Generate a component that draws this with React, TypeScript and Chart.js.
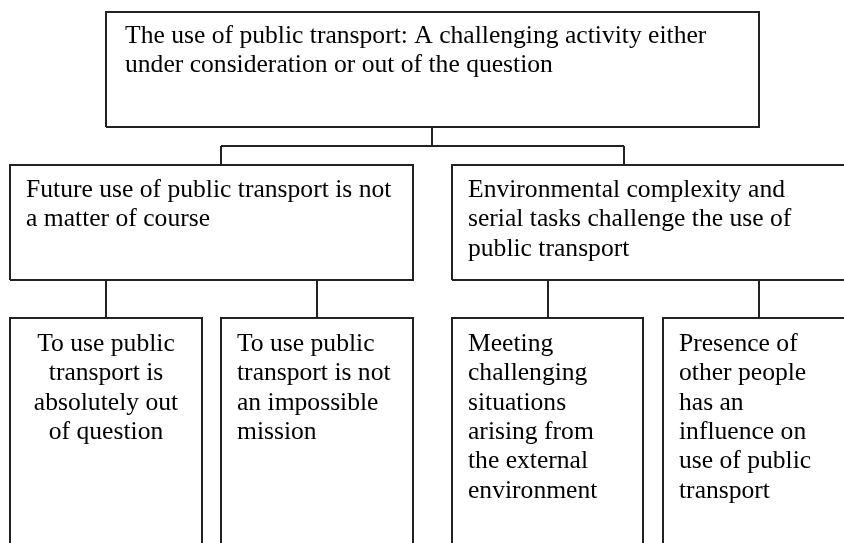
import React, { useEffect, useRef } from "react";
import { Chart, registerables } from "chart.js";

Chart.register(...registerables);

// Box geometry in diagram units (x: 0..844, y: 0..543 top-down)
const boxLeft = [106, 10, 452, 10, 221, 452, 663];
const boxRight = [759, 413, 880, 202, 413, 643, 880];
const boxTop = [12, 165, 165, 318, 318, 318, 318];
const boxBottom = [127, 280, 280, 580, 580, 580, 580];

const boxTexts: string[][] = [
  ["The use of public transport: A challenging activity either", "under consideration or out of the question"],
  ["Future use of public transport is not", "a matter of course"],
  ["Environmental complexity and", "serial tasks challenge the use of", "public transport"],
  ["To use public", "transport is", "absolutely out", "of question"],
  ["To use public", "transport is not", "an impossible", "mission"],
  ["Meeting", "challenging", "situations", "arising from", "the external", "environment"],
  ["Presence of", "other people", "has an", "influence on", "use of public", "transport"],
];
const textAlign: ("left" | "center")[] = ["left", "left", "left", "center", "left", "left", "left"];
const textX = [125, 26, 468, 106, 237, 468, 679];
const textBaseline = [43, 197, 197, 351, 351, 351, 351];
const lineStep = 29.3;

// Connector segments: [x1, y1, x2, y2]
const connectors: number[][] = [
  [432, 127, 432, 146],
  [221, 146, 624, 146],
  [221, 146, 221, 165],
  [624, 146, 624, 165],
  [106, 280, 106, 318],
  [317, 280, 317, 318],
  [548, 280, 548, 318],
  [759, 280, 759, 318],
];

const LINE_COLOR = "#222222";
const LINE_WIDTH = 2;

export default function App() {
  const ref = useRef<HTMLCanvasElement | null>(null);

  useEffect(() => {
    if (!ref.current) return;
    const datasets: any[] = [];
    boxLeft.forEach((l, i) => {
      const r = boxRight[i];
      const t = boxTop[i];
      const b = boxBottom[i];
      datasets.push({
        label: "box" + i,
        data: [
          { x: l, y: b },
          { x: l, y: t },
          { x: r, y: t },
          { x: r, y: b },
          { x: l, y: b },
        ],
        showLine: true,
        borderColor: LINE_COLOR,
        borderWidth: LINE_WIDTH,
        pointRadius: 0,
        fill: false,
        tension: 0,
        borderJoinStyle: "miter",
      });
    });
    connectors.forEach((c, i) => {
      datasets.push({
        label: "conn" + i,
        data: [
          { x: c[0], y: c[1] },
          { x: c[2], y: c[3] },
        ],
        showLine: true,
        borderColor: LINE_COLOR,
        borderWidth: LINE_WIDTH,
        pointRadius: 0,
        fill: false,
      });
    });

    const textPlugin = {
      id: "boxText",
      afterDatasetsDraw(chart: any) {
        const { ctx, scales } = chart;
        const xs = scales.x;
        const ys = scales.y;
        ctx.save();
        ctx.fillStyle = "#000";
        ctx.font = '25.6px "Liberation Serif", "Times New Roman", serif';
        ctx.textBaseline = "alphabetic";
        boxTexts.forEach((lines, i) => {
          ctx.textAlign = textAlign[i];
          lines.forEach((ln, k) => {
            const px = xs.getPixelForValue(textX[i]);
            const py = ys.getPixelForValue(textBaseline[i] + k * lineStep);
            ctx.fillText(ln, px, py);
          });
        });
        ctx.restore();
      },
    };

    const chart = new Chart(ref.current, {
      type: "scatter",
      data: { datasets },
      options: {
        animation: false,
        responsive: false,
        layout: { padding: 0 },
        plugins: {
          legend: { display: false },
          tooltip: { enabled: false },
        },
        scales: {
          x: { type: "linear", min: 0, max: 844, display: false },
          y: { type: "linear", min: 0, max: 543, reverse: true, display: false },
        },
      },
      plugins: [textPlugin],
    });
    return () => chart.destroy();
  }, []);

  return (
    <div style={{ position: "absolute", left: 0, top: 0, width: 844, height: 543, background: "#fff" }}>
      <canvas ref={ref} width={844} height={543} style={{ display: "block" }} />
    </div>
  );
}
